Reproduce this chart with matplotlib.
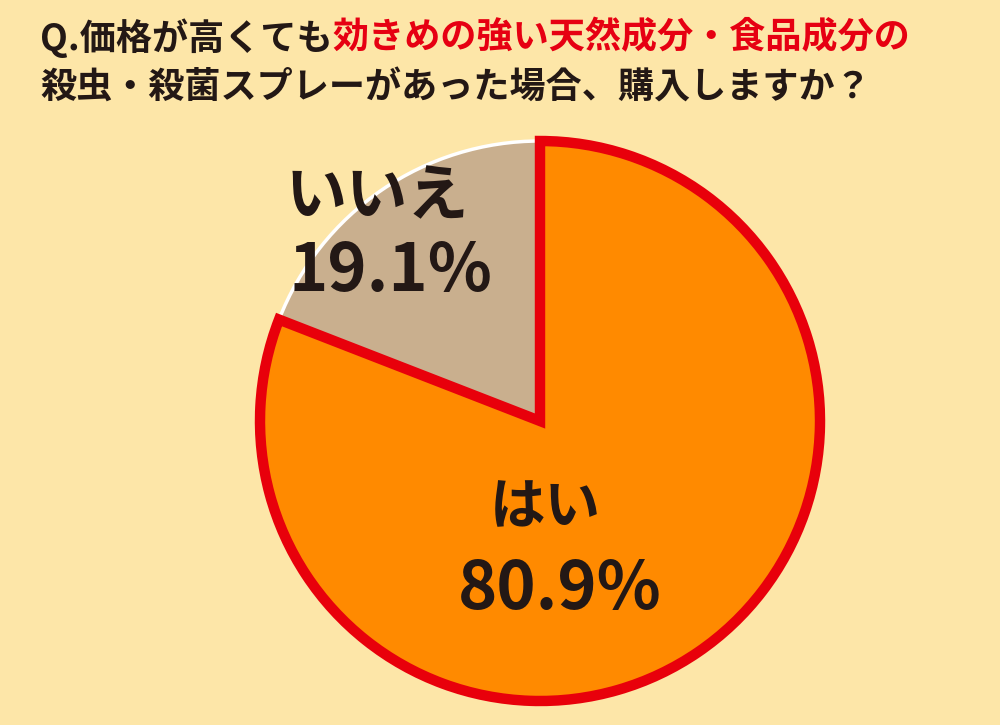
import matplotlib.pyplot as plt

plt.rcParams['font.family'] = ['Noto Sans CJK JP', 'DejaVu Sans']

# データ
labels = ['はい', 'いいえ']
values = [80.9, 19.1]
title_parts = [('Q.価格が高くても', '#231815'),
               ('効きめの強い天然成分・食品成分の', '#E60012')]
title_line2 = '殺虫・殺菌スプレーがあった場合、購入しますか？'

bg = '#FDE6A8'
fig = plt.figure(figsize=(10, 7.25), dpi=100, facecolor=bg)
ax = fig.add_axes([0, 0, 1, 1])

# 円グラフ（いいえ → 下、はい → 上に重ねる）
wedges, _ = ax.pie(values, startangle=90, counterclock=False,
                   center=(540, 304), radius=280, frame=True,
                   colors=['#FF8A00', '#C9AF8E'])
ax.set_xlim(0, 1000)
ax.set_ylim(0, 725)
ax.set_aspect('equal')
ax.axis('off')
wedges[1].set_edgecolor('white')
wedges[1].set_linewidth(2.5)
wedges[1].set_zorder(1)
wedges[0].set_edgecolor('#E8000B')
wedges[0].set_linewidth(7.5)
wedges[0].set_joinstyle('miter')
wedges[0].set_zorder(2)

# ラベル
txt = '#231815'
ax.text(286, 725 - 198, labels[1], fontsize=44, fontweight='bold',
        color=txt, ha='left', va='center', zorder=5)
ax.text(288, 725 - 271, f'{values[1]}%', fontsize=48, fontweight='bold',
        color=txt, ha='left', va='center', zorder=5)
ax.text(490, 725 - 508, labels[0], fontsize=40, fontweight='bold',
        color=txt, ha='left', va='center', zorder=5)
ax.text(458, 725 - 589, f'{values[0]}%', fontsize=48, fontweight='bold',
        color=txt, ha='left', va='center', zorder=5)

# タイトル（色分け）
fig.canvas.draw()
renderer = fig.canvas.get_renderer()
x = 40 / 1000
for s, c in title_parts:
    t = fig.text(x, 1 - 38 / 725, s, fontsize=26, fontweight='bold',
                 color=c, ha='left', va='center')
    bb = t.get_window_extent(renderer)
    x = bb.x1 / fig.bbox.width
fig.text(40 / 1000, 1 - 88 / 725, title_line2, fontsize=26,
         fontweight='bold', color='#231815', ha='left', va='center')

fig.savefig('out.png', dpi=100, facecolor=bg)
